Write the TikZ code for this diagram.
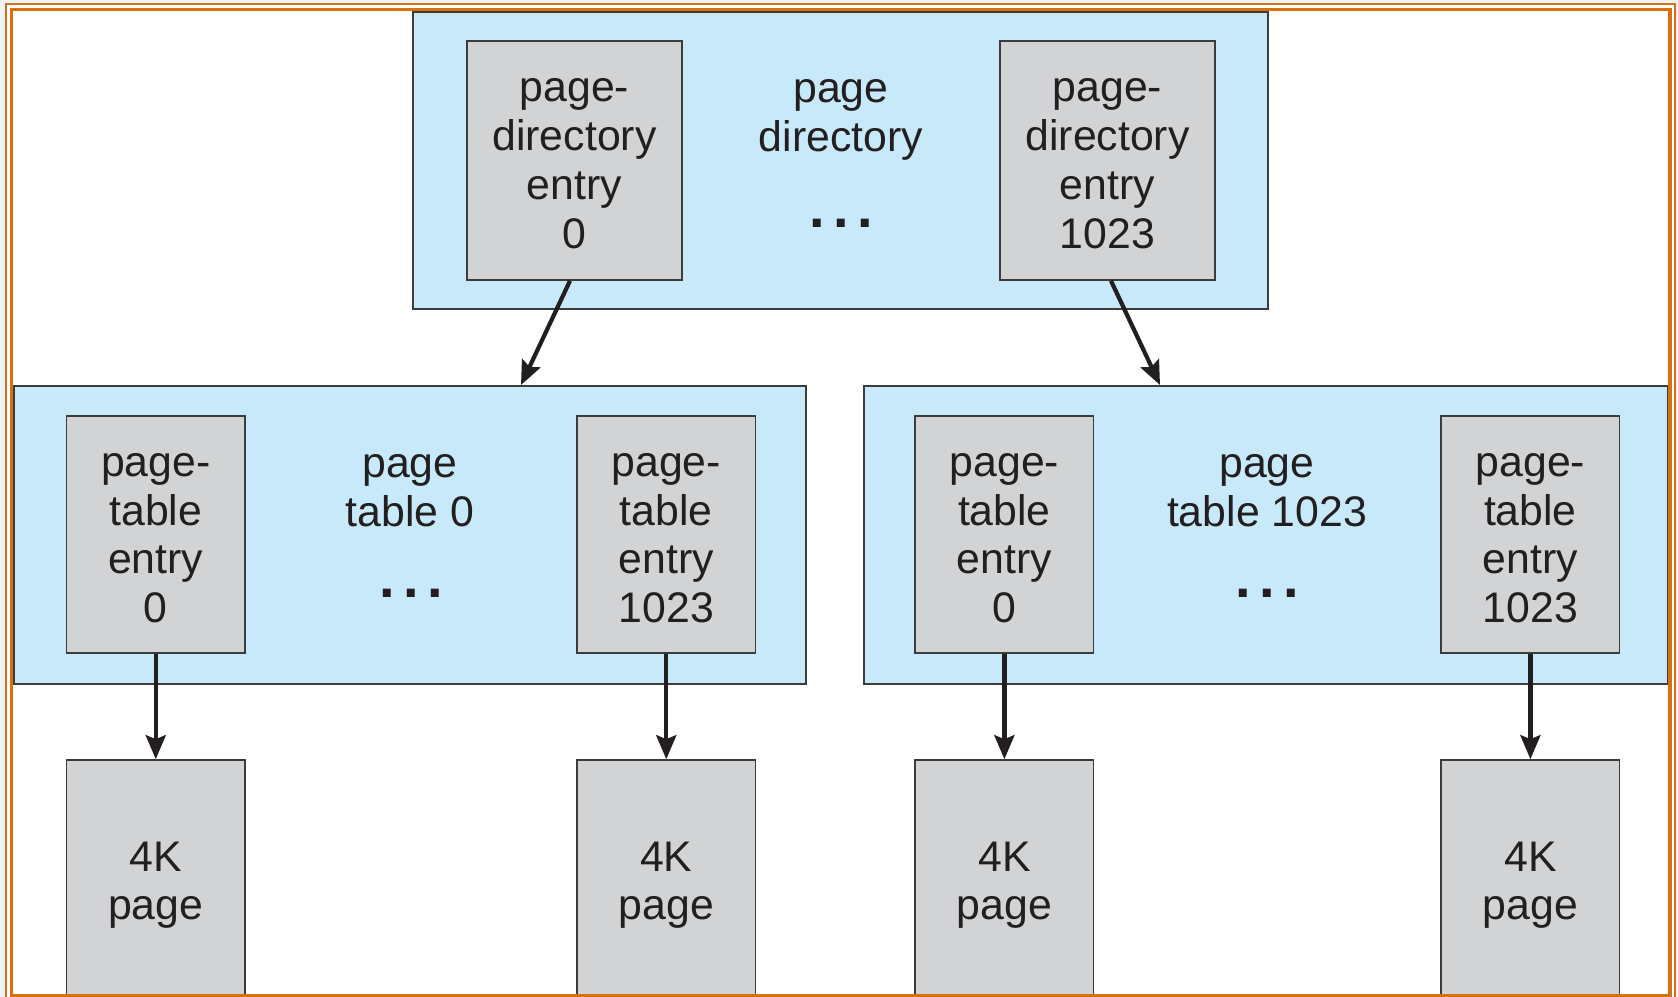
\documentclass[tikz,border=0pt]{standalone}
\usepackage{fontspec}
\setmainfont{Liberation Sans}
\usetikzlibrary{arrows.meta,calc}
\definecolor{bluefill}{RGB}{199,233,250}
\definecolor{grayfill}{RGB}{209,211,212}
\definecolor{edgecol}{RGB}{60,60,60}
\definecolor{inkcol}{RGB}{35,31,32}
\definecolor{frameorange}{RGB}{217,112,16}
\definecolor{palecol}{RGB}{236,244,250}
\newcommand\lifttop[1]{\rule{0pt}{#1}}
\begin{document}
\begin{tikzpicture}[x=0.5pt,y=-0.5pt,
  bluebox/.style={draw=edgecol, line width=1pt, fill=bluefill, inner sep=0pt},
  graybox/.style={draw=edgecol, line width=0.8pt, fill=grayfill, inner sep=0pt, align=center, text=inkcol, font=\fontsize{21.4}{24.4}\selectfont},
  lbl/.style={align=center, inner sep=0pt, text=inkcol, font=\fontsize{21.4}{24.4}\selectfont},
  dotrow/.style={inner sep=0pt, anchor=base, text=inkcol, font=\fontsize{28}{28}\selectfont\bfseries},
  arr/.style={-{Stealth[length=12pt,width=10pt,inset=2pt]}, line width=2.1pt, draw=inkcol, fill=inkcol},
  pdebox/.style={graybox, minimum width=107.5pt, minimum height=119.5pt},
  ptebox/.style={graybox, minimum width=89.25pt, minimum height=118.5pt},
  pagebox/.style={graybox, minimum width=89.25pt, minimum height=121pt},
]
\useasboundingbox (0,0) rectangle (1678,997);
\fill[palecol] (0,0) rectangle (1678,997);
\fill[white] (5.8,4.2) rectangle (1674.7,1000);
\draw[frameorange, line width=0.85pt] (5.8,1000) -- (5.8,4.2) -- (1674.7,4.2) -- (1674.7,1000);

% page directory
\node[bluebox, minimum width=427.5pt, minimum height=148.5pt] (pd) at (840.5,160.5) {};
\node[pdebox] (pde0) at (574.5,160.5) {\lifttop{14.9pt}page-\\directory\\entry\\0};
\node[pdebox] (pde1023) at (1107.5,160.5) {\lifttop{14.9pt}page-\\directory\\entry\\1023};
\node[lbl] (pdlbl) at (841,120) {page\\directory};
\node[dotrow] (pddots) at (841,227) {.\hspace{4.2pt}.\hspace{4.2pt}.};

% page tables
\node[bluebox, minimum width=396pt, minimum height=148.75pt] (pt0) at (410,534.75) {};
\node[bluebox, minimum width=402pt, minimum height=148.75pt] (pt1023) at (1266,534.75) {};
\node[ptebox] (ptea0) at (155.75,534.5) {\lifttop{15.2pt}page-\\table\\entry\\0};
\node[ptebox] (pteaN) at (666.25,534.5) {\lifttop{15.2pt}page-\\table\\entry\\1023};
\node[ptebox] (pteb0) at (1004.4,534.5) {\lifttop{15.2pt}page-\\table\\entry\\0};
\node[ptebox] (ptebN) at (1530.4,534.5) {\lifttop{15.2pt}page-\\table\\entry\\1023};
\node[lbl] (pt0lbl) at (410,490.5) {page\\table 0};
\node[lbl] (pt1023lbl) at (1267,490.5) {page\\table 1023};
\node[dotrow] (pt0dots) at (411,597) {.\hspace{4.2pt}.\hspace{4.2pt}.};
\node[dotrow] (pt1023dots) at (1267,597) {.\hspace{4.2pt}.\hspace{4.2pt}.};

% 4K pages
\node[pagebox] (pga0) at (155.75,881) {\lifttop{19pt}4K\\page};
\node[pagebox] (pgaN) at (666.25,881) {\lifttop{19pt}4K\\page};
\node[pagebox] (pgb0) at (1004.4,881) {\lifttop{19pt}4K\\page};
\node[pagebox] (pgbN) at (1530.4,881) {\lifttop{19pt}4K\\page};

% arrows
\draw[arr] ([xshift=-2.25pt]pde0.south) -- ([xshift=55.5pt]pt0.north);
\draw[arr] ([xshift=1.75pt]pde1023.south) -- ([xshift=-53pt]pt1023.north);
\draw[arr] (ptea0.south) -- (pga0.north);
\draw[arr] (pteaN.south) -- (pgaN.north);
\draw[arr] (pteb0.south) -- (pgb0.north);
\draw[arr] (ptebN.south) -- (pgbN.north);

% inner frame
\draw[frameorange, line width=1.6pt] (11.7,9.7) rectangle (1670,996);
\end{tikzpicture}
\end{document}
